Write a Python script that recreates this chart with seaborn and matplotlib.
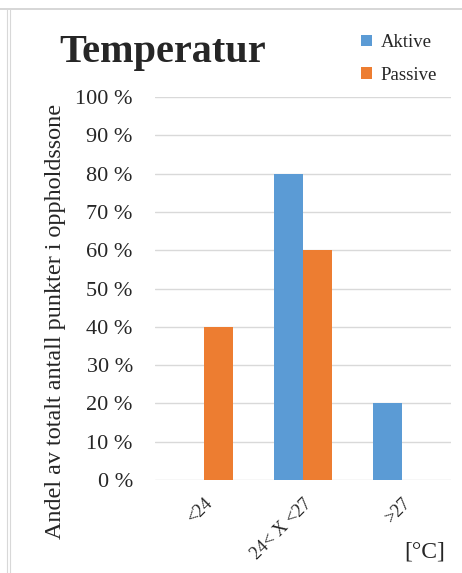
import matplotlib
matplotlib.use("Agg")
import matplotlib.pyplot as plt
from matplotlib.lines import Line2D
from matplotlib.patches import Patch
import seaborn as sns
import pandas as pd

# Share of measurement points per temperature band
categories = ["<24", "24< X <27", ">27"]
aktive = [0.0, 80.0, 20.0]
passive = [40.0, 60.0, 0.0]
series_names = ["Aktive", "Passive"]
y_ticks = [0, 10, 20, 30, 40, 50, 60, 70, 80, 90, 100]

df = pd.DataFrame({
    "kategori": categories * 2,
    "andel": aktive + passive,
    "serie": [series_names[0]] * len(categories) + [series_names[1]] * len(categories),
})

sns.set_theme(style="white")
plt.rcParams["font.family"] = ["Liberation Serif", "DejaVu Serif"]

blue = "#5B9BD5"
orange = "#ED7D31"
grid = "#D9D9D9"

fig = plt.figure(figsize=(4.62, 5.73), dpi=100)
ax = fig.add_axes([0.3355, 0.1623, 0.6405, 0.6684])

sns.barplot(data=df, x="kategori", y="andel", hue="serie", order=categories,
            hue_order=series_names, palette=[blue, orange], width=0.58,
            gap=0, saturation=1, legend=False, ax=ax, zorder=3,
            linewidth=0, edgecolor="none")

ax.set_xlim(-0.5, 2.5)
ax.set_ylim(0, 100)
ax.set_yticks(y_ticks)
ax.set_yticklabels([f"{t} %" for t in y_ticks], fontsize=16)
ax.yaxis.grid(True, color=grid, linewidth=1.0, zorder=0)
ax.set_axisbelow(True)
for s in ax.spines.values():
    s.set_visible(False)
ax.tick_params(axis="y", length=0, pad=16)
ax.tick_params(axis="x", length=0, pad=11)
ax.set_xticks(range(len(categories)))
ax.set_xticklabels(categories, rotation=45, ha="right", rotation_mode="anchor",
                   fontsize=13)
ax.set_xlabel("")
ax.set_ylabel("Andel av totalt antall punkter i oppholdssone", fontsize=17.4)
ax.yaxis.set_label_coords(-0.30, 0.413)

fig.text(0.352, 0.908, "Temperatur", fontsize=29, fontweight="bold",
         ha="center", va="center")
fig.text(0.964, 0.036, "[°C]", fontsize=17, ha="right", va="center")

handles = [Patch(facecolor=blue, edgecolor="none"),
           Patch(facecolor=orange, edgecolor="none")]
fig.legend(handles, series_names, loc="upper left",
           bbox_to_anchor=(0.745, 0.97), frameon=False, fontsize=13.5,
           handlelength=0.6, handleheight=0.6, handletextpad=0.45,
           labelspacing=0.85)

# Thin frame lines along the top and left edges
fig.add_artist(Line2D([0, 1], [1 - 9 / 573, 1 - 9 / 573], color="#D0D0D0",
                      linewidth=1.2, transform=fig.transFigure))
for xpx in (7.5, 10.0):
    fig.add_artist(Line2D([xpx / 462, xpx / 462], [0, 1 - 9 / 573],
                          color="#D8D8D8", linewidth=0.8,
                          transform=fig.transFigure))

fig.savefig("out.png", dpi=100)
